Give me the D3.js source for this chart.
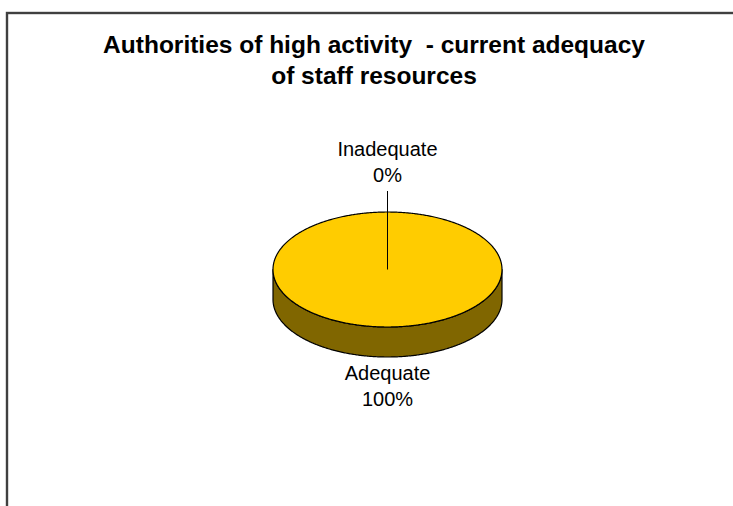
<!DOCTYPE html>
<html>
<head>
<meta charset="utf-8">
<script src="https://cdn.jsdelivr.net/npm/d3@7"></script>
<style>
  html, body { margin: 0; padding: 0; background: #fff; }
  svg { display: block; }
  text { font-family: Arial, "Liberation Sans", sans-serif; fill: #000; white-space: pre; }
</style>
</head>
<body>
<svg id="chart" width="733" height="506"></svg>
<script>
// Chart content
const titleLines = ["Authorities of high activity  - current adequacy", "of staff resources"];
const categories = ["Inadequate", "Adequate"];
const values = [0, 100];
const percentLabels = ["0%", "100%"];

const W = 733, H = 506;
const svg = d3.select("#chart");

// Chart area frame (runs off the right and bottom of the page)
svg.append("rect")
  .attr("x", 7).attr("y", 13)
  .attr("width", 800).attr("height", 600)
  .attr("fill", "#fff")
  .attr("stroke", "#404040")
  .attr("stroke-width", 2.4);

// Title
svg.append("g").selectAll("text")
  .data(titleLines)
  .join("text")
  .attr("x", 374)
  .attr("y", (d, i) => 53 + i * 31)
  .attr("text-anchor", "middle")
  .attr("xml:space", "preserve")
  .style("font-size", "24.5px")
  .style("font-weight", "bold")
  .text(d => d);

// 3D pie geometry: tilted ellipse with a side wall
const cx = 387.5, cy = 269.5, rx = 114.5, ry = 57.5, depth = 30;
const topColor = "#FFCC00", sideColor = "#806600";

const pie = d3.pie().sort(null).value(d => d.value).startAngle(0).endAngle(2 * Math.PI);
const slices = pie(categories.map((c, i) => ({ name: c, value: values[i], pct: percentLabels[i] })));

// angle measured clockwise from 12 o'clock
const proj = (a, dy = 0) => [cx + rx * Math.sin(a), cy - ry * Math.cos(a) + dy];
const line = d3.line();

function sampleAngles(a0, a1) {
  const n = Math.max(2, Math.ceil(Math.abs(a1 - a0) / 0.01));
  return d3.range(n + 1).map(k => a0 + (a1 - a0) * k / n);
}

const pieG = svg.append("g");

// Side wall: only the front half (angles between pi/2 and 3pi/2) is visible
slices.forEach(s => {
  const a0 = Math.max(s.startAngle, Math.PI / 2);
  const a1 = Math.min(s.endAngle, 3 * Math.PI / 2);
  if (a1 <= a0) return;
  const angs = sampleAngles(a0, a1);
  const pts = angs.map(a => proj(a)).concat(angs.slice().reverse().map(a => proj(a, depth)));
  pieG.append("path")
    .attr("d", line(pts) + "Z")
    .attr("fill", sideColor)
    .attr("stroke", "#000")
    .attr("stroke-width", 1.2)
    .attr("stroke-linejoin", "round");
});

// Top faces
slices.forEach(s => {
  const angs = sampleAngles(s.startAngle, s.endAngle);
  const full = (s.endAngle - s.startAngle) >= 2 * Math.PI - 1e-9;
  const pts = full ? angs.map(a => proj(a)) : [[cx, cy]].concat(angs.map(a => proj(a)));
  pieG.append("path")
    .attr("d", line(pts) + "Z")
    .attr("fill", topColor)
    .attr("stroke", "#000")
    .attr("stroke-width", 1.2)
    .attr("stroke-linejoin", "round");
});

// Slice edges for each boundary (the zero slice shows as a single radius)
slices.forEach(s => {
  if (s.value === 0) {
    const p = proj(s.startAngle);
    pieG.append("line")
      .attr("x1", cx).attr("y1", cy)
      .attr("x2", p[0]).attr("y2", p[1])
      .attr("stroke", "#000").attr("stroke-width", 1);
  }
});

// Data labels
const labelG = svg.append("g");
slices.forEach(s => {
  const mid = (s.startAngle + s.endAngle) / 2;
  const above = Math.cos(mid) > 0;
  const p = proj(mid);
  let baseY;
  if (above) {
    // leader line from the label down to the slice edge
    labelG.append("line")
      .attr("x1", p[0]).attr("y1", p[1] - 21)
      .attr("x2", p[0]).attr("y2", p[1])
      .attr("stroke", "#000").attr("stroke-width", 1);
    baseY = p[1] - 56;
  } else {
    baseY = p[1] + depth + 23;
  }
  const t = labelG.append("text")
    .attr("text-anchor", "middle")
    .style("font-size", "20px");
  t.append("tspan").attr("x", p[0]).attr("y", baseY).text(s.data.name);
  t.append("tspan").attr("x", p[0]).attr("y", baseY + 26).text(s.data.pct);
});
</script>
</body>
</html>
